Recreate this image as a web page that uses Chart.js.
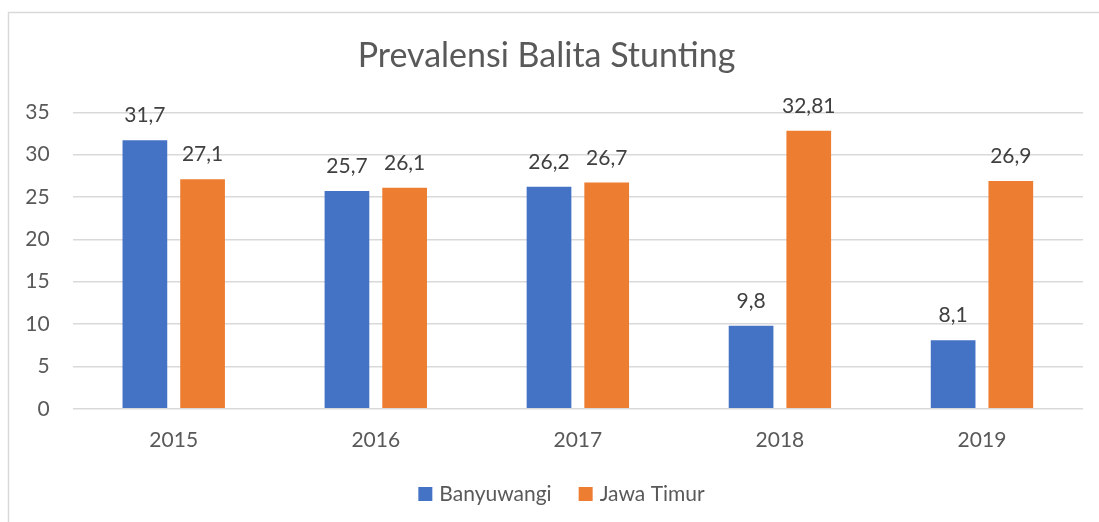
<!DOCTYPE html>
<html>
<head>
<meta charset="utf-8">
<script src="https://cdn.jsdelivr.net/npm/chart.js@4/dist/chart.umd.min.js"></script>
<style>
  html, body { margin: 0; padding: 0; background: #fff; }
  #wrap { position: relative; width: 1099px; height: 522px; }
</style>
</head>
<body>
<div id="wrap"><canvas id="chart" width="1099" height="522"></canvas></div>
<script>
// chart data
const years = ['2015', '2016', '2017', '2018', '2019'];
const banyuwangi = [31.7, 25.7, 26.2, 9.8, 8.1];
const jawaTimur = [27.1, 26.1, 26.7, 32.81, 26.9];
const yTicks = [0, 5, 10, 15, 20, 25, 30, 35];

const FONT = 'Lato, "Open Sans", sans-serif';
const TEXT = '#595959';

// light frame round the chart (top and left edge, like the Excel export)
const framePlugin = {
    id: 'frame',
    beforeDraw(chart) {
        const ctx = chart.ctx;
        ctx.save();
        ctx.strokeStyle = '#d9d9d9';
        ctx.lineWidth = 1.5;
        ctx.beginPath();
        ctx.moveTo(8.5, chart.height);
        ctx.lineTo(8.5, 12.5);
        ctx.lineTo(chart.width, 12.5);
        ctx.stroke();
        ctx.restore();
    }
};

// value labels above each bar, decimal comma
const valueLabels = {
    id: 'valueLabels',
    afterDatasetsDraw(chart) {
        const ctx = chart.ctx;
        ctx.save();
        ctx.font = '21px ' + FONT;
        ctx.fillStyle = '#404040';
        ctx.textAlign = 'center';
        ctx.textBaseline = 'alphabetic';
        chart.data.datasets.forEach((ds, i) => {
            chart.getDatasetMeta(i).data.forEach((bar, j) => {
                const txt = String(ds.data[j]).replace('.', ',');
                ctx.fillText(txt, bar.x, bar.y - 18);
            });
        });
        ctx.restore();
    }
};

// Excel style legend: small square, short gap, name
const bottomLegend = {
    id: 'bottomLegend',
    afterDraw(chart) {
        const ctx = chart.ctx;
        const box = 14, gap = 7, itemGap = 27;
        const baseY = 501, centerX = 561.5;
        ctx.save();
        ctx.font = '21px ' + FONT;
        ctx.textBaseline = 'alphabetic';
        ctx.textAlign = 'left';
        const items = chart.data.datasets.map(ds => ({
            label: ds.label, color: ds.backgroundColor,
            w: box + gap + ctx.measureText(ds.label).width
        }));
        const total = items.reduce((s, it) => s + it.w, 0) + itemGap * (items.length - 1);
        let x = centerX - total / 2;
        items.forEach(it => {
            ctx.fillStyle = it.color;
            ctx.fillRect(x, baseY - box, box, box);
            ctx.fillStyle = TEXT;
            ctx.fillText(it.label, x + box + gap, baseY);
            x += it.w + itemGap;
        });
        ctx.restore();
    }
};

new Chart(document.getElementById('chart'), {
    type: 'bar',
    data: {
        labels: years,
        datasets: [
            { label: 'Banyuwangi', data: banyuwangi, backgroundColor: '#4472C4' },
            { label: 'Jawa Timur', data: jawaTimur, backgroundColor: '#ED7D31' }
        ]
    },
    options: {
        responsive: false,
        animation: false,
        categoryPercentage: 0.571,
        barPercentage: 0.775,
        layout: { padding: { left: 10, right: 16, top: 0, bottom: 58 } },
        plugins: {
            title: {
                display: true,
                text: 'Prevalensi Balita Stunting',
                color: TEXT,
                font: { family: FONT, size: 34, weight: 'normal' },
                padding: { top: 35.5, bottom: 36 }
            },
            legend: { display: false },
            tooltip: { enabled: false }
        },
        scales: {
            x: {
                grid: { display: false },
                border: { display: false },
                ticks: { color: TEXT, font: { family: FONT, size: 21 }, padding: 11 }
            },
            y: {
                min: 0,
                max: 35,
                afterBuildTicks(scale) {
                    scale.ticks = yTicks.map(v => ({ value: v }));
                },
                afterFit(scale) { scale.width = 62.7; },
                grid: { color: '#d9d9d9', lineWidth: 1.5, drawTicks: false },
                border: { display: false },
                ticks: { color: TEXT, font: { family: FONT, size: 21 }, padding: 23 }
            }
        }
    },
    plugins: [framePlugin, valueLabels, bottomLegend]
});
</script>
</body>
</html>
